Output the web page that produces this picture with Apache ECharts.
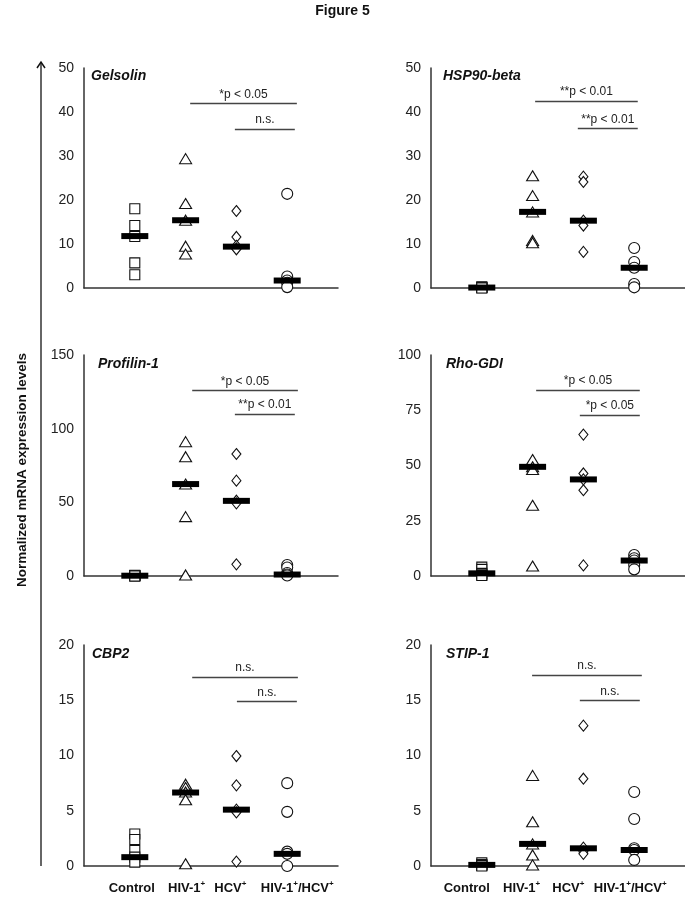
<!DOCTYPE html>
<html><head><meta charset="utf-8">
<script src="https://cdn.jsdelivr.net/npm/echarts@6/dist/echarts.min.js"></script>
<style>html,body{margin:0;padding:0;background:#fff}#c{width:685px;height:913px}</style>
</head><body><div id="c"></div>
<script>
// ---------- DATA ----------
const categories = ['Control', 'HIV-1+', 'HCV+', 'HIV-1+/HCV+'];
const genes = ['Gelsolin', 'HSP90-beta', 'Profilin-1', 'Rho-GDI', 'CBP2', 'STIP-1'];

const gelsolin = [[18.0, 14.2, 11.7, 5.7, 3.0], [29.4, 19.2, 15.4, 9.5, 7.7], [17.5, 11.6, 9.6, 9.0, 8.8], [21.4, 2.6, 1.7, 1.2, 0.2]];
const gelsolinMedian = [11.8, 15.4, 9.4, 1.7];
const gelsolinTicks = [0, 10, 20, 30, 40, 50];
const gelsolinSig = [['*p < 0.05', 42.0, 2.09, 4.19], ['n.s.', 36.1, 2.97, 4.15]];

const hsp90 = [[0.3, 0.15, 0.1, 0.05, 0], [25.5, 21.0, 17.3, 10.8, 10.3], [25.3, 24.1, 15.3, 14.2, 8.2], [9.1, 5.9, 4.6, 0.9, 0.15]];
const hsp90Median = [0.1, 17.3, 15.3, 4.6];
const hsp90Ticks = [0, 10, 20, 30, 40, 50];
const hsp90Sig = [['**p < 0.01', 42.5, 2.05, 4.07], ['**p < 0.01', 36.2, 2.89, 4.07]];

const profilin = [[0.5, 0.3, 0.2, 0.1, 0], [91.2, 81.0, 62.4, 40.3, 0.7], [82.8, 64.7, 51.1, 49.3, 7.9], [7.5, 5.8, 2.0, 1.0, 0.3]];
const profilinMedian = [0.2, 62.4, 51.0, 1.0];
const profilinTicks = [0, 50, 100, 150];
const profilinSig = [['*p < 0.05', 126, 2.13, 4.21], ['**p < 0.01', 110, 2.97, 4.15]];

const rhogdi = [[4.0, 3.0, 1.2, 0.5, 0.2], [52.7, 49.4, 48.2, 32.0, 4.5], [64.0, 46.4, 43.7, 38.8, 4.8], [9.5, 8.0, 7.0, 5.0, 3.0]];
const rhogdiMedian = [1.2, 49.4, 43.7, 7.0];
const rhogdiTicks = [0, 25, 50, 75, 100];
const rhogdiSig = [['*p < 0.05', 84.2, 2.07, 4.11], ['*p < 0.05', 72.9, 2.93, 4.11]];

const cbp2 = [[2.9, 2.4, 1.4, 0.8, 0.35], [7.4, 7.1, 6.7, 6.0, 0.2], [9.95, 7.3, 5.1, 4.85, 0.4], [7.5, 4.9, 1.3, 1.1, 0.0]];
const cbp2Median = [0.8, 6.65, 5.1, 1.1];
const cbp2Ticks = [0, 5, 10, 15, 20];
const cbp2Sig = [['n.s.', 17.1, 2.13, 4.21], ['n.s.', 14.9, 3.01, 4.19]];

const stip1 = [[0.3, 0.15, 0.1, 0.05, 0], [8.2, 4.0, 2.0, 1.0, 0.1], [12.7, 7.9, 1.66, 1.3, 1.1], [6.7, 4.25, 1.6, 1.45, 0.55]];
const stip1Median = [0.1, 2.0, 1.6, 1.45];
const stip1Ticks = [0, 5, 10, 15, 20];
const stip1Sig = [['n.s.', 17.3, 1.99, 4.15], ['n.s.', 15.0, 2.93, 4.11]];

const panelValues = [gelsolin, hsp90, profilin, rhogdi, cbp2, stip1];
const panelMedians = [gelsolinMedian, hsp90Median, profilinMedian, rhogdiMedian, cbp2Median, stip1Median];
const panelTicks = [gelsolinTicks, hsp90Ticks, profilinTicks, rhogdiTicks, cbp2Ticks, stip1Ticks];
const panelSig = [gelsolinSig, hsp90Sig, profilinSig, rhogdiSig, cbp2Sig, stip1Sig];

// ---------- LAYOUT ----------
const FONT = 'Liberation Sans, Arial, sans-serif';
const colLeft = [84, 431];
const rowTop = [68, 355, 645];
const rowH = [220, 221, 221];
const gridW = 254;
const titlePos = [[91, 69], [443, 69], [98, 357], [446, 357], [92, 647], [446, 647]];
const labelShift = [[-3, 1, -6, 10], [-15, -11, -15, -4]];
const symbols = [['rect', [10, 10]], ['triangle', [12, 10]], ['diamond', [9, 11]], ['circle', [11, 11]]];

const chart = echarts.init(document.getElementById('c'), null, {renderer: 'canvas'});

const grids = [], xAxes = [], yAxes = [], series = [];
const titles = [{
  text: 'Figure 5', left: 'center', top: 4, padding: 0,
  textStyle: {fontFamily: FONT, fontSize: 14, fontWeight: 'bold', color: '#111'}
}];

function labelRich(col) {
  const rich = {
    b: {fontFamily: FONT, fontSize: 13, fontWeight: 'bold', color: '#111', lineHeight: 16},
    s: {fontFamily: FONT, fontSize: 8, fontWeight: 'bold', color: '#111', lineHeight: 9, verticalAlign: 'top'}
  };
  labelShift[col].forEach((d, i) => {
    rich['g' + i] = {fontSize: 13, lineHeight: 16, width: Math.max(1, Math.abs(d) * 2)};
  });
  return rich;
}
function labelText(name, i, col) {
  const parts = name.split('/').map(p => p.endsWith('+') ? '{b|' + p.slice(0, -1) + '}{s|+}' : '{b|' + p + '}');
  const body = parts.join('{b|/}');
  const d = labelShift[col][i];
  return d >= 0 ? '{g' + i + '| }' + body : body + '{g' + i + '| }';
}

for (let p = 0; p < 6; p++) {
  const col = p % 2, row = Math.floor(p / 2);
  const ticks = panelTicks[p];
  grids.push({left: colLeft[col], top: rowTop[row], width: gridW, height: rowH[row], outerBoundsMode: 'none'});
  xAxes.push({
    gridIndex: p, type: 'value', min: 0, max: 5, interval: 1,
    axisLine: {show: true, onZero: false, lineStyle: {color: '#333', width: 1.5}},
    axisTick: {show: false}, splitLine: {show: false},
    axisLabel: {
      show: row === 2, margin: 14, showMinLabel: true, showMaxLabel: true,
      formatter: v => (v >= 1 && v <= 4) ? labelText(categories[v - 1], v - 1, col) : '',
      rich: labelRich(col)
    }
  });
  yAxes.push({
    gridIndex: p, type: 'value', min: ticks[0], max: ticks[ticks.length - 1], interval: ticks[1] - ticks[0],
    axisLine: {show: true, lineStyle: {color: '#333', width: 1.5}},
    axisTick: {show: false}, splitLine: {show: false},
    axisLabel: {fontFamily: FONT, fontSize: 14, color: '#222', margin: 10}
  });
  titles.push({
    text: genes[p], left: titlePos[p][0], top: titlePos[p][1], padding: 0,
    textStyle: {fontFamily: FONT, fontSize: 14, fontStyle: 'italic', fontWeight: 'bold', color: '#111'}
  });
  panelValues[p].forEach((vals, g) => {
    series.push({
      type: 'scatter', xAxisIndex: p, yAxisIndex: p, z: 2,
      symbol: symbols[g][0], symbolSize: symbols[g][1],
      itemStyle: {color: '#fff', borderColor: '#111', borderWidth: 1.1, opacity: 1},
      data: vals.map(v => [g + 1, v]), silent: true
    });
  });
  series.push({
    type: 'scatter', xAxisIndex: p, yAxisIndex: p, z: 5,
    symbol: 'rect', symbolSize: [27, 6],
    itemStyle: {color: '#000', opacity: 1},
    data: panelMedians[p].map((v, g) => [g + 1, v]), silent: true,
    markLine: {
      silent: true, symbol: ['none', 'none'], animation: false,
      lineStyle: {color: '#444', width: 1.3, type: 'solid', opacity: 1},
      label: {show: true, position: 'insideMiddleTop', distance: 3, fontFamily: FONT, fontSize: 12, color: '#222'},
      emphasis: {disabled: true},
      data: panelSig[p].map(s => [
        {coord: [s[2], s[1]], label: {formatter: s[0]}},
        {coord: [s[3], s[1]]}
      ])
    }
  });
}

chart.setOption({
  animation: false,
  backgroundColor: '#fff',
  title: titles,
  grid: grids, xAxis: xAxes, yAxis: yAxes, series: series,
  graphic: [
    {type: 'line', shape: {x1: 41, y1: 62, x2: 41, y2: 866}, style: {stroke: '#333', lineWidth: 1.5}},
    {type: 'polyline', shape: {points: [[37, 68], [41, 62], [45, 68]]}, style: {stroke: '#111', lineWidth: 1.5, fill: null}},
    {type: 'text', x: 22, y: 470, rotation: Math.PI / 2,
     style: {text: 'Normalized mRNA expression levels', font: 'bold 13.5px ' + FONT, fill: '#111', align: 'center', verticalAlign: 'middle'}}
  ]
});
</script></body></html>
